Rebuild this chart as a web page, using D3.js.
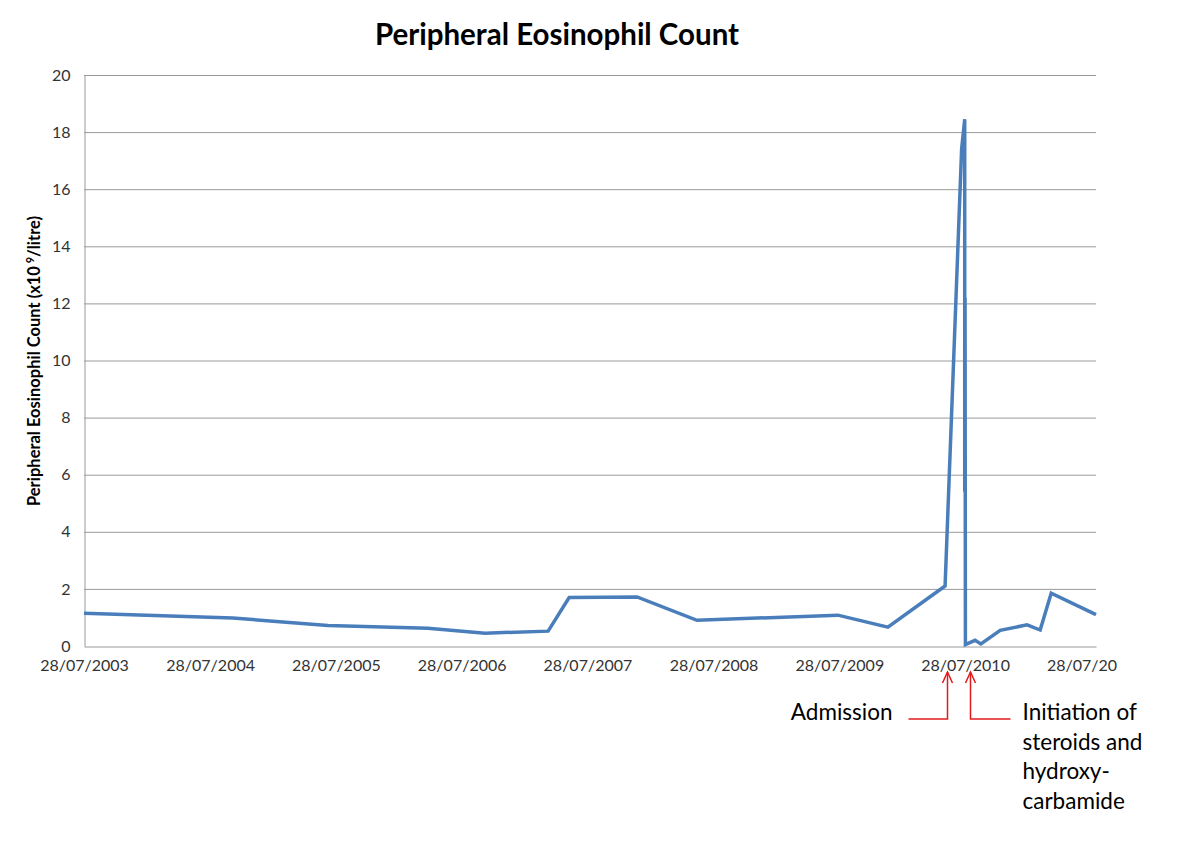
<!DOCTYPE html>
<html>
<head>
<meta charset="utf-8">
<script src="https://cdn.jsdelivr.net/npm/d3@7/dist/d3.min.js"></script>
<style>
  html, body { margin: 0; padding: 0; background: #fff; }
  svg { display: block; }
  text { font-family: Lato, "Open Sans", sans-serif; }
</style>
</head>
<body>
<svg id="chart" width="1200" height="853"></svg>
<script>
// ---- data ----
const dates = [
  "2003-07-28", "2004-10-02", "2005-07-05", "2006-04-21", "2006-10-04",
  "2007-04-05", "2007-06-05", "2007-12-19", "2008-06-10", "2009-07-24",
  "2009-12-16", "2010-05-31", "2010-07-18", "2010-07-27", "2010-07-27",
  "2010-07-28", "2010-07-29", "2010-08-26", "2010-09-12", "2010-11-07",
  "2011-01-24", "2011-03-03", "2011-04-04", "2011-08-12"
];
const counts = [
  1.15, 0.98, 0.72, 0.62, 0.45,
  0.52, 1.70, 1.72, 0.90, 1.08,
  0.66, 2.10, 17.40, 18.45, 5.40,
  12.20, 0.05, 0.20, 0.07, 0.55,
  0.74, 0.56, 1.85, 1.10
];
const xTickDates = ["2003-07-28","2004-07-28","2005-07-28","2006-07-28","2007-07-28","2008-07-28","2009-07-28","2010-07-28","2011-07-28"];
const xTickLabels = ["28/07/2003","28/07/2004","28/07/2005","28/07/2006","28/07/2007","28/07/2008","28/07/2009","28/07/2010","28/07/20"];
const yTicks = [0, 2, 4, 6, 8, 10, 12, 14, 16, 18, 20];
const xDomain = ["2003-07-28", "2011-08-12"];
const yDomain = [0, 20];
const titleText = "Peripheral Eosinophil Count";
const annotations = [
  { label: ["Admission"], date: "2010-06-05", side: "left" },
  { label: ["Initiation of", "steroids and", "hydroxy-", "carbamide"], date: "2010-08-11", side: "right" }
];

// ---- layout ----
const parse = d3.utcParse("%Y-%m-%d");
const svg = d3.select("#chart");
const plot = { left: 84, right: 1096, top: 75, bottom: 646 };

const x = d3.scaleUtc().domain(xDomain.map(parse)).range([plot.left, plot.right]);
const y = d3.scaleLinear().domain(yDomain).range([plot.bottom, plot.top]);

// gridlines
svg.append("g")
  .selectAll("line")
  .data(yTicks.filter(d => d > 0))
  .join("line")
  .attr("x1", plot.left).attr("x2", plot.right)
  .attr("y1", d => y(d) + 0.5).attr("y2", d => y(d) + 0.5)
  .attr("stroke", "#9a9a9a").attr("stroke-width", 1);

// y axis
const yAxis = svg.append("g")
  .attr("transform", `translate(${plot.left + 0.5},0)`)
  .call(d3.axisLeft(y).tickValues(yTicks).tickSize(0).tickPadding(14).tickFormat(d3.format("d")));
yAxis.select(".domain").attr("stroke", "#9a9a9a");
yAxis.selectAll("text").attr("font-size", 16).attr("fill", "#333").attr("font-family", "Lato, sans-serif");

// x axis
const xAxis = svg.append("g")
  .attr("transform", `translate(0,${plot.bottom + 0.5})`)
  .call(d3.axisBottom(x).tickValues(xTickDates.map(parse)).tickSize(0).tickPadding(13)
    .tickFormat((d, i) => xTickLabels[i]));
xAxis.select(".domain").attr("stroke", "#9a9a9a");
const xt = xAxis.selectAll("text").attr("font-size", 16).attr("fill", "#333").attr("font-family", "Lato, sans-serif");
const fullW = xt.nodes()[0].getComputedTextLength();
xt.attr("text-anchor", "start").attr("x", -fullW / 2);

// line
const line = d3.line()
  .x((d, i) => x(parse(dates[i])))
  .y(d => y(d));
svg.append("path")
  .datum(counts)
  .attr("d", line)
  .attr("fill", "none")
  .attr("stroke", "#4a7ebb")
  .attr("stroke-width", 3.5)
  .attr("stroke-linejoin", "miter")
  .attr("stroke-miterlimit", 10);

// title
svg.append("text")
  .attr("x", 557).attr("y", 45)
  .attr("text-anchor", "middle")
  .attr("font-size", 29.5).attr("font-weight", "bold").attr("fill", "#000")
  .text(titleText);

// y label
const yl = svg.append("text")
  .attr("transform", "translate(40,361) rotate(-90)")
  .attr("text-anchor", "middle")
  .attr("font-size", 16.5).attr("font-weight", "bold").attr("fill", "#000");
yl.append("tspan").text("Peripheral Eosinophil Count (x10");
yl.append("tspan").attr("dy", -6).attr("font-size", 11).text(" 9");
yl.append("tspan").attr("dy", 6).text("/litre)");

// annotations (arrows)
const arrowTop = 672, arrowBase = 719;
const red = "#e31a1c";
annotations.forEach(a => {
  const ax = Math.round(x(parse(a.date))) + 0.5;
  const hx = a.side === "left" ? ax - 39 : ax + 40;
  svg.append("path")
    .attr("d", `M${hx},${arrowBase}H${ax}V${arrowTop}`)
    .attr("fill", "none").attr("stroke", red).attr("stroke-width", 1.5);
  svg.append("path")
    .attr("d", `M${ax - 5},${arrowTop + 11}L${ax},${arrowTop}L${ax + 5},${arrowTop + 11}`)
    .attr("fill", "none").attr("stroke", red).attr("stroke-width", 1.5);
  const t = svg.append("text")
    .attr("font-size", 22.5).attr("fill", "#000")
    .attr("text-anchor", a.side === "left" ? "end" : "start");
  const tx = a.side === "left" ? hx - 16 : hx + 12;
  a.label.forEach((s, i) => {
    t.append("tspan").attr("x", tx).attr("y", 720 + i * 29.5).text(s);
  });
});
</script>
</body>
</html>
